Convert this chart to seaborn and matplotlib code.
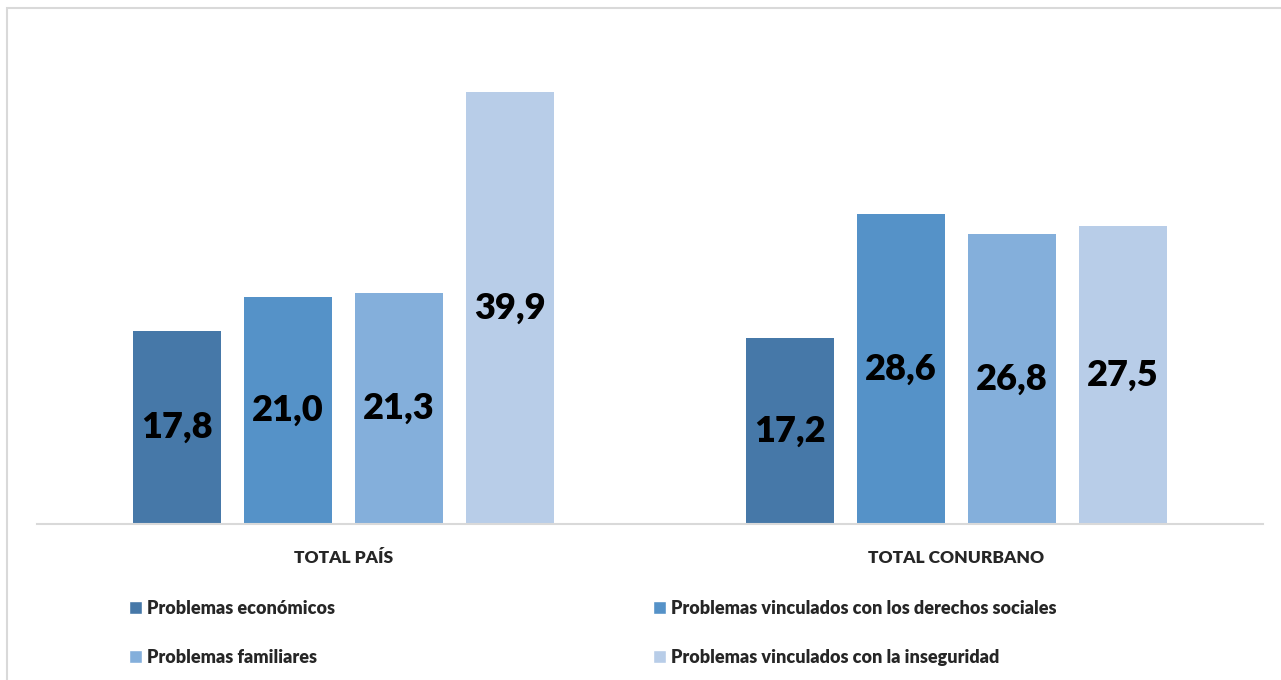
import numpy as np
import pandas as pd
import seaborn as sns
import matplotlib.pyplot as plt
from matplotlib.patches import Rectangle, Patch

# data
regiones = ["TOTAL PAÍS", "TOTAL CONURBANO"]
problemas = ["Problemas económicos",
             "Problemas vinculados con los derechos sociales",
             "Problemas familiares",
             "Problemas vinculados con la inseguridad"]
pais = [17.8, 21.0, 21.3, 39.9]
conurbano = [17.2, 28.6, 26.8, 27.5]
colores = ["#4678A8", "#5592C8", "#84AFDB", "#B8CDE8"]

df = pd.DataFrame({
    "region": [regiones[0]] * 4 + [regiones[1]] * 4,
    "problema": problemas * 2,
    "valor": pais + conurbano,
})

sns.set_style("white")
plt.rcParams['font.family'] = ['Lato', 'DejaVu Sans']

fig = plt.figure(figsize=(12.81, 6.80), dpi=100)
ax = fig.add_axes([37 / 1281, 1 - 524 / 680, 1226 / 1281, (524 - 40) / 680])

sns.barplot(data=df, x="region", y="valor", hue="problema", hue_order=problemas,
            order=regiones, palette=colores, width=0.724, gap=0.207, ax=ax,
            legend=False, edgecolor="none", saturation=1)

for cont in ax.containers:
    labels = [f"{v:.1f}".replace(".", ",") for v in cont.datavalues]
    ax.bar_label(cont, labels=labels, label_type="center", fontsize=26,
                 fontweight="heavy", color="black")

ax.set_xlim(-0.5, 1.5)
ax.set_ylim(0, 39.9 * (524 - 40) / (524 - 92))
ax.set_xlabel("")
ax.set_ylabel("")
ax.set_yticks([])
ax.set_xticks([0, 1], labels=regiones, fontweight="heavy", fontsize=12.5)
ax.tick_params(axis="x", length=0, pad=19)
for s in ["top", "right", "left"]:
    ax.spines[s].set_visible(False)
ax.spines["bottom"].set_color("#D9D9D9")
ax.spines["bottom"].set_linewidth(1.5)

# legend in two rows, two columns
handles = [Patch(facecolor=c) for c in colores]
kw = dict(frameon=False, handlelength=0.7, handleheight=0.7,
          handletextpad=0.3, labelspacing=1.75, borderpad=0, borderaxespad=0,
          loc="upper left", prop={"weight": "heavy", "size": 13})
leg1 = fig.legend([handles[0], handles[2]], [problemas[0], problemas[2]],
                  bbox_to_anchor=(129 / 1281, 1 - 600 / 680), **kw)
leg2 = fig.legend([handles[1], handles[3]], [problemas[1], problemas[3]],
                  bbox_to_anchor=(653 / 1281, 1 - 600 / 680), **kw)

# outer chart border
fig.patches.append(Rectangle((7 / 1281, -0.05), 1.1, 1 - 8 / 680 + 0.05,
                             transform=fig.transFigure, fill=False,
                             edgecolor="#D9D9D9", linewidth=1.5))

fig.savefig("out.png", dpi=100)
